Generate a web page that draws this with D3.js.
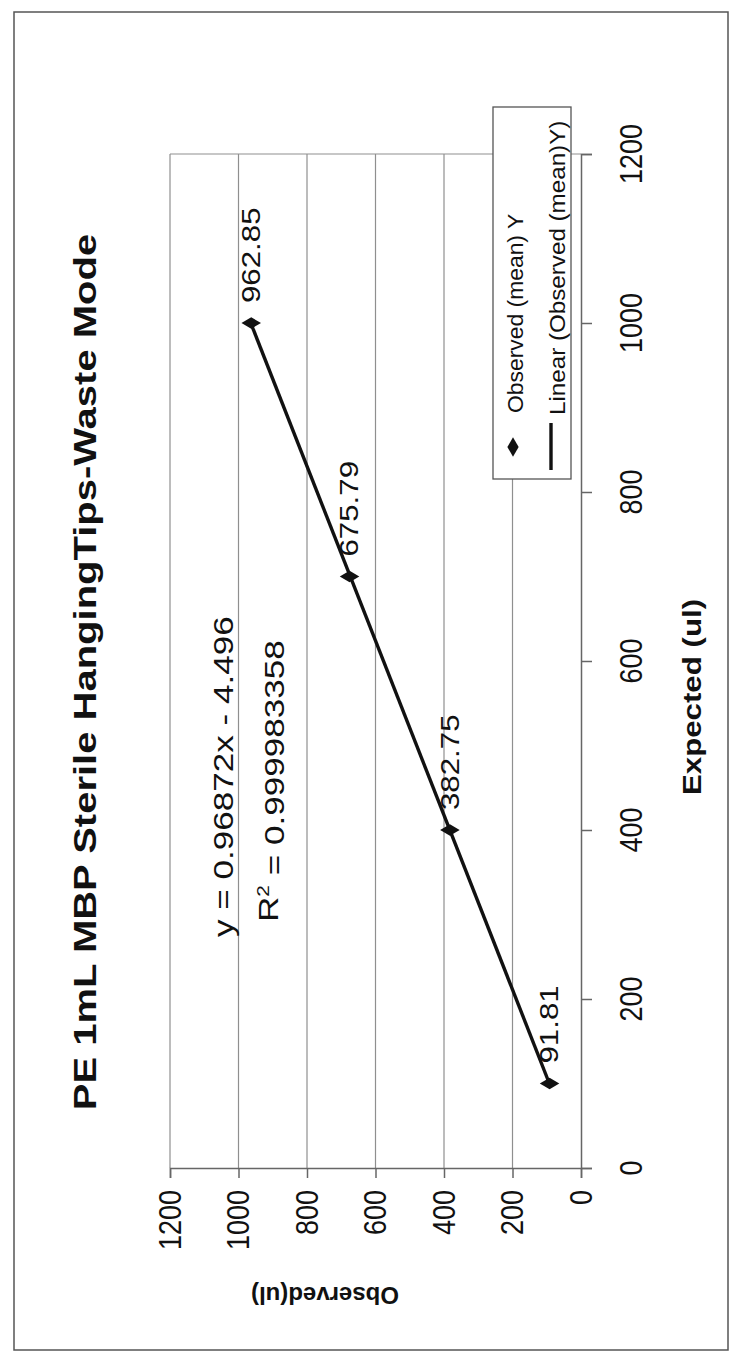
<!DOCTYPE html>
<html>
<head>
<meta charset="utf-8">
<script src="https://cdn.jsdelivr.net/npm/d3@7"></script>
<style>
  html, body { margin: 0; padding: 0; background: #fff; }
  svg { display: block; }
  text { font-family: "Liberation Sans", Arial, Helvetica, sans-serif; fill: #111; }
</style>
</head>
<body>
<svg id="chart" width="731" height="1356"></svg>
<script>
// ---- data ----
const expected = [100, 400, 700, 1000];
const observed = [91.81, 382.75, 675.79, 962.85];
const dataLabels = ["91.81", "382.75", "675.79", "962.85"];
const axisTicks = [0, 200, 400, 600, 800, 1000, 1200];
const trendSlope = 0.96872;
const trendIntercept = -4.496;
const equationText = "y = 0.96872x - 4.496";
const r2Value = "0.999983358";
const titleText = "PE 1mL MBP Sterile HangingTips-Waste Mode";
const xAxisTitle = "Expected (ul)";
const yAxisTitle = "Observed(ul)";
const legendLabels = ["Observed (mean) Y", "Linear (Observed (mean)Y)"];

// ---- layout: chart is rotated 90° counter-clockwise on the page ----
const svg = d3.select("#chart");
const plot = { left: 170, right: 581, top: 154, bottom: 1168 };

// Expected (original x axis) runs bottom -> top on the page
const xExp = d3.scaleLinear().domain([0, 1200]).range([plot.bottom, plot.top]);
// Observed (original y axis) runs right -> left on the page
const yObs = d3.scaleLinear().domain([0, 1200]).range([plot.right, plot.left]);

// helper: vertical text (reads bottom to top), stretched along reading direction by k
function vtext(g, x, y, str, opts) {
  const o = Object.assign({ size: 20, weight: "normal", k: 1, anchor: "start", dy: "0.35em" }, opts);
  return g.append("text")
    .attr("transform", `translate(${x},${y}) rotate(-90) scale(${o.k},1)`)
    .attr("text-anchor", o.anchor)
    .attr("dy", o.dy)
    .style("font-size", o.size + "px")
    .style("font-weight", o.weight)
    .text(str);
}

// outer frame
svg.append("rect")
  .attr("x", 14).attr("y", 12).attr("width", 714).attr("height", 1338)
  .attr("fill", "none").attr("stroke", "#555").attr("stroke-width", 1.5);

// gridlines (Observed values)
svg.append("g").selectAll("line.grid")
  .data(axisTicks.filter(d => d > 0))
  .join("line")
  .attr("x1", d => yObs(d)).attr("x2", d => yObs(d))
  .attr("y1", plot.top).attr("y2", plot.bottom)
  .attr("stroke", "#8f8f8f").attr("stroke-width", 1.2);

// plot border top (Expected = 1200)
svg.append("line")
  .attr("x1", plot.left).attr("x2", plot.right)
  .attr("y1", xExp(1200)).attr("y2", xExp(1200))
  .attr("stroke", "#8f8f8f").attr("stroke-width", 1.2);

// Observed axis (bottom on page)
const obsAxis = d3.axisBottom(yObs).tickValues(axisTicks).tickSize(10).tickFormat("");
const gObs = svg.append("g").attr("transform", `translate(0,${plot.bottom})`).call(obsAxis);
gObs.select(".domain").attr("stroke", "#666").attr("stroke-width", 1.5);
gObs.selectAll(".tick line").attr("stroke", "#666").attr("stroke-width", 1.5);

// Expected axis (right on page)
const expAxis = d3.axisRight(xExp).tickValues(axisTicks).tickSize(11).tickFormat("");
const gExp = svg.append("g").attr("transform", `translate(${plot.right},0)`).call(expAxis);
gExp.select(".domain").attr("stroke", "#666").attr("stroke-width", 1.5);
gExp.selectAll(".tick line").attr("stroke", "#666").attr("stroke-width", 1.5);

// tick labels
const labels = svg.append("g");
axisTicks.forEach(t => {
  vtext(labels, yObs(t), 1190, String(t), { size: 31, k: 0.87, anchor: "end" });
  vtext(labels, 631, xExp(t), String(t), { size: 31, k: 0.87, anchor: "middle" });
});

// trendline
const trendX = d3.extent(expected);
svg.append("line")
  .attr("x1", yObs(trendSlope * trendX[0] + trendIntercept))
  .attr("y1", xExp(trendX[0]))
  .attr("x2", yObs(trendSlope * trendX[1] + trendIntercept))
  .attr("y2", xExp(trendX[1]))
  .attr("stroke", "#111").attr("stroke-width", 3.4);

// markers
const diamond = d3.symbol().type(d3.symbolDiamond).size(110);
svg.append("g").selectAll("path")
  .data(expected.map((e, i) => ({ e, o: observed[i] })))
  .join("path")
  .attr("d", diamond)
  .attr("transform", d => `translate(${yObs(d.o)},${xExp(d.e)}) rotate(90)`)
  .attr("fill", "#111");

// data labels
const dl = svg.append("g");
expected.forEach((e, i) => {
  vtext(dl, yObs(observed[i]), xExp(e) - 20, dataLabels[i], { size: 25, k: 1.25, anchor: "start" });
});

// trend equation and R²
const eq = svg.append("g");
vtext(eq, 233, 937, equationText, { size: 27, k: 1.3, anchor: "start", dy: "0" });
const r2 = eq.append("text")
  .attr("transform", `translate(278,922) rotate(-90) scale(1.3,1)`)
  .style("font-size", "27px");
r2.append("tspan").text("R");
r2.append("tspan").attr("dy", "-0.55em").style("font-size", "16px").text("2");
r2.append("tspan").attr("dy", "0.55em").text(" = " + r2Value);

// title
vtext(svg, 96, 672, titleText, { size: 32, weight: "bold", k: 1.25, anchor: "middle", dy: "0" });

// axis titles
vtext(svg, 701, 697, xAxisTitle, { size: 25, weight: "bold", k: 1.25, anchor: "middle", dy: "0" });
svg.append("text")
  .attr("transform", "translate(325,1295) rotate(180)")
  .attr("text-anchor", "middle").attr("dy", "0.35em")
  .style("font-size", "24px").style("font-weight", "bold")
  .text(yAxisTitle);

// legend
const lg = svg.append("g");
lg.append("rect").attr("x", 493).attr("y", 107).attr("width", 78).attr("height", 372)
  .attr("fill", "#fff").attr("stroke", "#555").attr("stroke-width", 1.3);
lg.append("path").attr("d", diamond).attr("transform", "translate(513,447)").attr("fill", "#111");
lg.append("line").attr("x1", 551).attr("x2", 551).attr("y1", 423).attr("y2", 470)
  .attr("stroke", "#111").attr("stroke-width", 3.4);
vtext(lg, 523, 413, legendLabels[0], { size: 22, k: 1.04, anchor: "start", dy: "0" });
vtext(lg, 565, 415, legendLabels[1], { size: 22, k: 1.1, anchor: "start", dy: "0" });
</script>
</body>
</html>
